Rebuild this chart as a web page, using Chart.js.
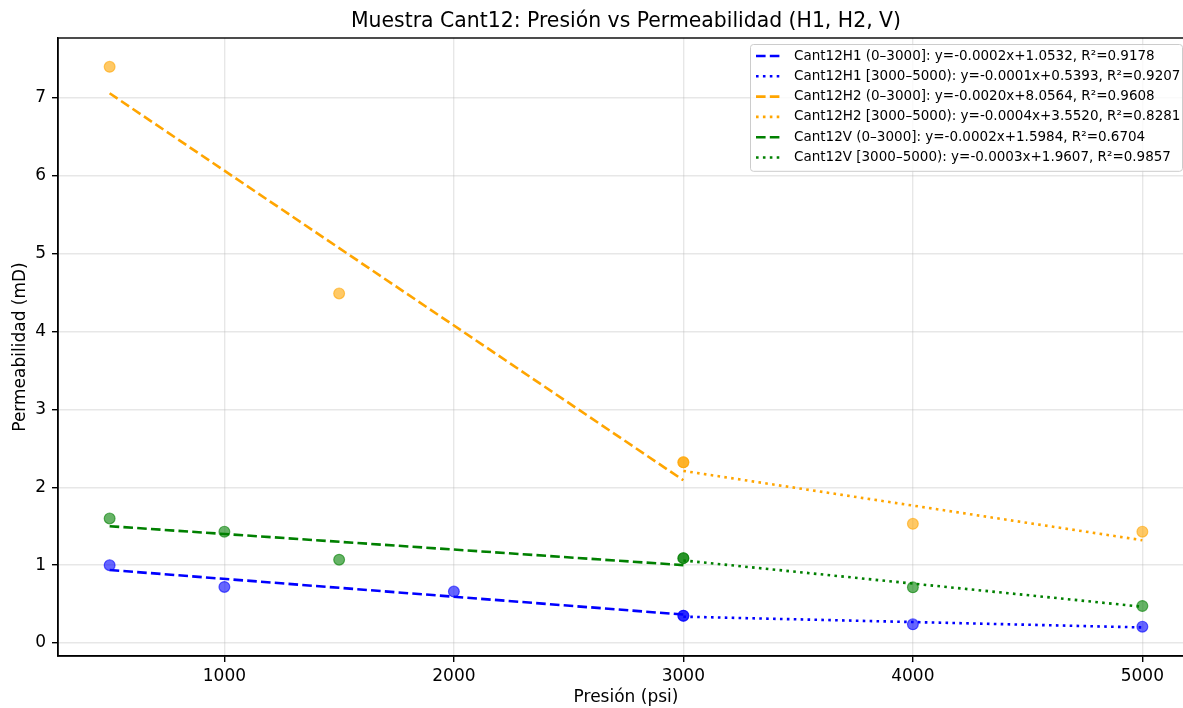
<!DOCTYPE html>
<html>
<head>
<meta charset="utf-8">
<script src="https://cdn.jsdelivr.net/npm/chart.js@4.4.0/dist/chart.umd.min.js"></script>
<style>
  html, body { margin: 0; padding: 0; background: #fff; overflow: hidden; }
  #wrap { width: 1183px; height: 708px; overflow: hidden; }
</style>
</head>
<body>
<!-- el área de ejes sigue un poco más allá del borde derecho, como en la figura original -->
<div id="wrap"><canvas id="myChart" width="1195" height="708"></canvas></div>
<script>
const titulo = 'Muestra Cant12: Presión vs Permeabilidad (H1, H2, V)';
const xTicks = [1000, 2000, 3000, 4000, 5000];
const yTicks = [0, 1, 2, 3, 4, 5, 6, 7];

// Puntos medidos (3000 psi aparece en los dos tramos)
const presionH1 = [500, 1000, 2000, 3000, 3000, 4000, 5000];
const permH1 = [1.00, 0.72, 0.66, 0.35, 0.35, 0.24, 0.21];
const presionH2 = [500, 1500, 3000, 3000, 4000, 5000];
const permH2 = [7.40, 4.49, 2.32, 2.32, 1.53, 1.43];
const presionV = [500, 1000, 1500, 3000, 3000, 4000, 5000];
const permV = [1.60, 1.43, 1.07, 1.09, 1.09, 0.715, 0.475];

// Rectas de ajuste, extremos de cada tramo
const tramoBajo = [500, 3000];
const tramoAlto = [3000, 5000];
const fitH1Bajo = [0.938, 0.365];
const fitH1Alto = [0.338, 0.200];
const fitH2Bajo = [7.06, 2.09];
const fitH2Alto = [2.21, 1.32];
const fitVBajo = [1.50, 1.00];
const fitVAlto = [1.06, 0.466];

const etiquetas = [
    'Cant12H1 (0–3000]: y=-0.0002x+1.0532, R²=0.9178',
    'Cant12H1 [3000–5000): y=-0.0001x+0.5393, R²=0.9207',
    'Cant12H2 (0–3000]: y=-0.0020x+8.0564, R²=0.9608',
    'Cant12H2 [3000–5000): y=-0.0004x+3.5520, R²=0.8281',
    'Cant12V (0–3000]: y=-0.0002x+1.5984, R²=0.6704',
    'Cant12V [3000–5000): y=-0.0003x+1.9607, R²=0.9857'
];

const AZUL = '#0000ff';
const NARANJA = '#ffa500';
const VERDE = '#008000';
const DASHED = [9.6, 4.2];
const DOTTED = [2.6, 4.3];

function pts(xs, ys) {
    return xs.map((x, i) => ({ x: x, y: ys[i] }));
}

function alpha(hex, a) {
    const n = parseInt(hex.slice(1), 16);
    return 'rgba(' + (n >> 16) + ',' + ((n >> 8) & 255) + ',' + (n & 255) + ',' + a + ')';
}

function recta(label, xs, ys, color, dash) {
    return {
        label: label,
        data: pts(xs, ys),
        showLine: true,
        borderColor: color,
        borderWidth: 2.6,
        borderDash: dash,
        pointRadius: 0,
        fill: false,
        order: 0,
        enLeyenda: true
    };
}

function nube(xs, ys, color) {
    return {
        label: '',
        data: pts(xs, ys),
        showLine: false,
        pointRadius: 5.4,
        pointBackgroundColor: alpha(color, 0.6),
        pointBorderColor: alpha(color, 0.6),
        pointBorderWidth: 1.2,
        order: 1
    };
}

Chart.defaults.font.family = 'DejaVu Sans';
Chart.defaults.color = '#000';

// Título centrado sobre el área de ejes
const tituloEjes = {
    id: 'tituloEjes',
    afterDraw(chart) {
        const { ctx, chartArea: a } = chart;
        ctx.save();
        ctx.font = '20.4px "DejaVu Sans"';
        ctx.fillStyle = '#000';
        ctx.textAlign = 'center';
        ctx.textBaseline = 'middle';
        ctx.fillText(titulo, (a.left + a.right) / 2, 22);
        ctx.restore();
    }
};

// Marco completo (arriba y derecha)
const marco = {
    id: 'marco',
    afterDatasetsDraw(chart) {
        const { ctx, chartArea: a } = chart;
        ctx.save();
        ctx.strokeStyle = '#000';
        ctx.lineWidth = 1.4;
        ctx.strokeRect(a.left, a.top, a.right - a.left, a.bottom - a.top);
        ctx.restore();
    }
};

// Leyenda dentro del área, arriba a la derecha
const leyenda = {
    id: 'leyenda',
    afterDraw(chart) {
        const { ctx, chartArea: a } = chart;
        const items = chart.data.datasets.filter(d => d.enLeyenda);
        const w = 432, fila = 20.3;
        const h = items.length * fila + 5;
        const x0 = a.right - 12 - w, y0 = a.top + 6;
        ctx.save();
        ctx.beginPath();
        ctx.roundRect(x0 + 0.5, y0 + 0.5, w, h, 3);
        ctx.fillStyle = 'rgba(255,255,255,0.8)';
        ctx.fill();
        ctx.strokeStyle = '#cccccc';
        ctx.lineWidth = 1;
        ctx.stroke();
        ctx.font = '13.5px "DejaVu Sans"';
        ctx.textBaseline = 'middle';
        items.forEach((d, i) => {
            const y = y0 + 12 + i * fila;
            ctx.beginPath();
            ctx.setLineDash(d.borderDash);
            ctx.strokeStyle = d.borderColor;
            ctx.lineWidth = 2.6;
            ctx.moveTo(x0 + 6, y);
            ctx.lineTo(x0 + 30, y);
            ctx.stroke();
            ctx.setLineDash([]);
            ctx.fillStyle = '#000';
            ctx.fillText(d.label, x0 + 44, y);
        });
        ctx.restore();
    }
};

const grid = {
    color: 'rgba(176,176,176,0.3)',
    lineWidth: 1.4,
    tickColor: '#000',
    tickLength: 6,
    tickWidth: 1.4
};

const ctx = document.getElementById('myChart');
const myChart = new Chart(ctx, {
    type: 'scatter',
    data: {
        datasets: [
            recta(etiquetas[0], tramoBajo, fitH1Bajo, AZUL, DASHED),
            recta(etiquetas[1], tramoAlto, fitH1Alto, AZUL, DOTTED),
            recta(etiquetas[2], tramoBajo, fitH2Bajo, NARANJA, DASHED),
            recta(etiquetas[3], tramoAlto, fitH2Alto, NARANJA, DOTTED),
            recta(etiquetas[4], tramoBajo, fitVBajo, VERDE, DASHED),
            recta(etiquetas[5], tramoAlto, fitVAlto, VERDE, DOTTED),
            nube(presionH1, permH1, AZUL),
            nube(presionH2, permH2, NARANJA),
            nube(presionV, permV, VERDE)
        ]
    },
    options: {
        responsive: false,
        animation: false,
        layout: { autoPadding: false, padding: { top: 38, right: 1, left: 0, bottom: 0 } },
        plugins: {
            legend: { display: false },
            tooltip: { enabled: false },
            title: { display: false }
        },
        scales: {
            x: {
                type: 'linear',
                min: 275,
                max: 5225,
                afterBuildTicks: s => { s.ticks = xTicks.map(v => ({ value: v })); },
                afterFit: s => { s.height = 52; s.paddingLeft = 0; s.paddingRight = 0; },
                ticks: { font: { size: 17 }, padding: 4, maxRotation: 0, callback: v => String(v) },
                grid: grid,
                border: { color: '#000', width: 1.4 },
                title: {
                    display: true,
                    text: 'Presión (psi)',
                    font: { size: 17 },
                    padding: { top: 0, bottom: 0 }
                }
            },
            y: {
                min: -0.167,
                max: 7.77,
                afterBuildTicks: s => { s.ticks = yTicks.map(v => ({ value: v })); },
                afterFit: s => { s.width = 58; s.paddingTop = 0; s.paddingBottom = 0; },
                ticks: { font: { size: 17 }, padding: 6, callback: v => String(v) },
                grid: grid,
                border: { color: '#000', width: 1.4 },
                title: {
                    display: true,
                    text: 'Permeabilidad (mD)',
                    font: { size: 17 },
                    padding: { top: 10, bottom: 0 }
                }
            }
        }
    },
    plugins: [marco, leyenda, tituloEjes]
});
</script>
</body>
</html>
